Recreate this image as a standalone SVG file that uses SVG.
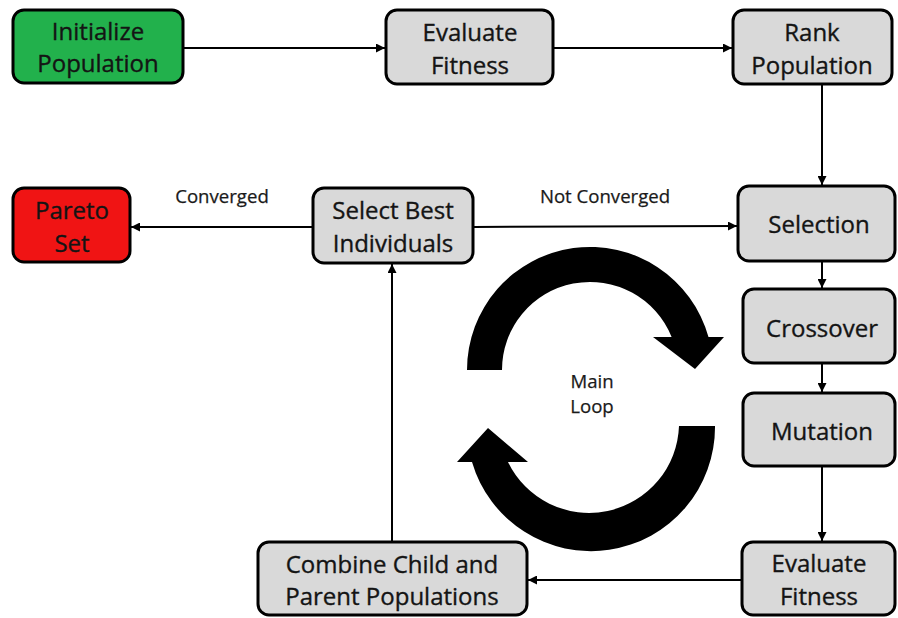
<svg xmlns="http://www.w3.org/2000/svg" width="898" height="618" viewBox="0 0 898 618">
  <style>
    .box { fill: #d9d9d9; stroke: #000; stroke-width: 3; }
    .start { fill: #22b14c; }
    .end { fill: #f01414; }
    .lbl { font-family: "Open Sans", "Liberation Sans", sans-serif; font-size: 24px; fill: #141414; stroke: #141414; stroke-width: 0.35; text-anchor: middle; }
    .edge-lbl { font-family: "Open Sans", "Liberation Sans", sans-serif; font-size: 18.6px; fill: #1a1a1a; stroke: #1a1a1a; stroke-width: 0.25; text-anchor: middle; }
    .conn { fill: none; stroke: #000; stroke-width: 2; marker-end: url(#arrow); }
    .loop { fill: #000; }
  </style>
  <defs>
    <marker id="arrow" viewBox="0 0 10 10" refX="10" refY="5" markerWidth="4.5" markerHeight="4.5" orient="auto" markerUnits="strokeWidth">
      <path d="M0,0 L10,5 L0,10 z" fill="#000"/>
    </marker>
  </defs>
  <rect width="898" height="618" fill="#fff"/>

  <!-- connectors -->
  <g id="connectors">
    <line class="conn" x1="184" y1="48" x2="385" y2="48"/>
    <line class="conn" x1="554" y1="48" x2="732" y2="48"/>
    <line class="conn" x1="822" y1="85" x2="822" y2="185"/>
    <line class="conn" x1="474" y1="227" x2="737" y2="226"/>
    <line class="conn" x1="312" y1="227" x2="131" y2="227"/>
    <line class="conn" x1="822" y1="261" x2="822" y2="288"/>
    <line class="conn" x1="822" y1="363" x2="822" y2="392"/>
    <line class="conn" x1="822" y1="466" x2="822" y2="541"/>
    <line class="conn" x1="741" y1="580" x2="528" y2="580"/>
    <line class="conn" x1="392" y1="541" x2="392" y2="264"/>
    <text class="edge-lbl" x="222" y="203">Converged</text>
    <text class="edge-lbl" x="605" y="203">Not Converged</text>
  </g>

  <!-- main loop circular arrows -->
  <g id="main-loop">
    <path class="loop" d="M467,370 A123,123 0 0 1 708.5,337 L724,337 L695,369 L653,337 L671.6,337 A88,88 0 0 0 502,370 Z"/>
    <path class="loop" d="M715,426 A124,124 0 0 1 472,462 L457,462 L488,428 L528,462 L508,462 A90,90 0 0 0 679,426 Z"/>
    <text class="edge-lbl" x="592" y="388">Main</text>
    <text class="edge-lbl" x="592" y="413">Loop</text>
  </g>

  <!-- nodes -->
  <g id="initialize-population">
    <rect class="box start" x="13" y="10" width="170" height="73" rx="11"/>
    <text class="lbl" x="98" y="40">Initialize</text>
    <text class="lbl" x="98" y="72">Population</text>
  </g>
  <g id="evaluate-fitness-1">
    <rect class="box" x="386" y="10" width="167" height="74" rx="11"/>
    <text class="lbl" x="470" y="41">Evaluate</text>
    <text class="lbl" x="470" y="74">Fitness</text>
  </g>
  <g id="rank-population">
    <rect class="box" x="733" y="10" width="159" height="74" rx="11"/>
    <text class="lbl" x="812" y="41">Rank</text>
    <text class="lbl" x="812" y="74">Population</text>
  </g>
  <g id="pareto-set">
    <rect class="box end" x="13" y="188" width="117" height="74" rx="11"/>
    <text class="lbl" x="72" y="219">Pareto</text>
    <text class="lbl" x="72" y="252">Set</text>
  </g>
  <g id="select-best">
    <rect class="box" x="313" y="188" width="160" height="75" rx="11"/>
    <text class="lbl" x="393" y="219">Select Best</text>
    <text class="lbl" x="393" y="252">Individuals</text>
  </g>
  <g id="selection">
    <rect class="box" x="738" y="186" width="157" height="75" rx="11"/>
    <text class="lbl" x="819" y="233">Selection</text>
  </g>
  <g id="crossover">
    <rect class="box" x="743" y="289" width="152" height="74" rx="11"/>
    <text class="lbl" x="822" y="337">Crossover</text>
  </g>
  <g id="mutation">
    <rect class="box" x="743" y="393" width="152" height="73" rx="11"/>
    <text class="lbl" x="822" y="440">Mutation</text>
  </g>
  <g id="evaluate-fitness-2">
    <rect class="box" x="742" y="542" width="153" height="73" rx="11"/>
    <text class="lbl" x="819" y="572">Evaluate</text>
    <text class="lbl" x="819" y="605">Fitness</text>
  </g>
  <g id="combine-populations">
    <rect class="box" x="258" y="542" width="269" height="73" rx="11"/>
    <text class="lbl" x="392" y="573">Combine Child and</text>
    <text class="lbl" x="392" y="605">Parent Populations</text>
  </g>
</svg>
